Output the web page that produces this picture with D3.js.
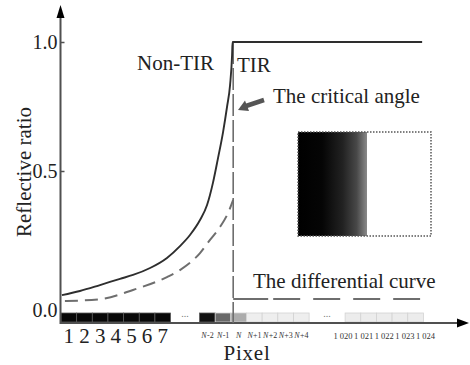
<!DOCTYPE html>
<html>
<head>
<meta charset="utf-8">
<script src="https://cdn.jsdelivr.net/npm/d3@7"></script>
<style>
  html, body { margin: 0; padding: 0; background: #fff; }
  svg { display: block; font-family: "Liberation Serif", "DejaVu Serif", serif; }
</style>
</head>
<body>
<svg id="chart" width="470" height="365"></svg>
<script>
// ---------------- data ----------------
// reflective ratio curve (x in pixel-slot units, y in ratio)
const reflX = [0.06, 1.21, 2.49, 3.77, 4.60, 5.69, 6.77, 7.60, 8.24, 8.88, 9.33, 9.71, 10.03, 10.35, 10.61, 10.80, 10.93, 10.96, 23.07];
const reflY = [0.019, 0.035, 0.058, 0.082, 0.097, 0.124, 0.163, 0.209, 0.252, 0.310, 0.368, 0.455, 0.550, 0.650, 0.750, 0.833, 0.95, 1.0, 1.0];
// differential curve
const diffX = [0.25, 2.49, 4.60, 6.77, 7.60, 8.88, 9.52, 10.16, 10.67, 11.0];
const diffY = [-0.004, 0.003, 0.039, 0.089, 0.116, 0.182, 0.233, 0.283, 0.337, 0.388];
const diffLowX = [11.0, 22.94];
const diffLowY = [0.004, 0.004];
const criticalX = 11.0;
// pixel strip
const pixelLabels = ["1","2","3","4","5","6","7","N-2","N-1","N","N+1","N+2","N+3","N+4","1 020","1 021","1 022","1 023","1 024"];
const pixelIndex = [0,1,2,3,4,5,6, 8.85,9.85,10.85,11.85,12.85,13.85,14.85, 18.15,19.15,20.15,21.15,22.15];
const pixelGray = [8,8,8,8,8,8,8, 18,105,172,238,238,238,238, 236,236,236,236,236];
// axis ticks
const yTicks = [0, 0.5, 1.0];
const yTickLabels = ["0.0", "0.5", "1.0"];

// ---------------- layout ----------------
const svg = d3.select("#chart");
const x = d3.scaleLinear().domain([0, 26]).range([61, 468]);
const y = d3.scaleLinear().domain([0, 1]).range([300, 42]);
const axisY = 323;
const axisColor = "#505050";

// pixel strip
const cellTop = 313, cellBottom = 322;
svg.append("g").selectAll("rect").data(pixelIndex).join("rect")
  .attr("x", d => x(d))
  .attr("y", cellTop)
  .attr("width", d => x(d + 1) - x(d))
  .attr("height", cellBottom - cellTop)
  .attr("fill", (d, i) => d3.rgb(pixelGray[i], pixelGray[i], pixelGray[i]))
  .attr("stroke", (d, i) => pixelGray[i] < 60 ? "#5a5a5a" : "#d2d2d2")
  .attr("stroke-width", 0.8);

// ellipses between groups
[[7, 8.85], [15.85, 18.15]].forEach(([a, b]) => {
  svg.append("text")
    .attr("x", (x(a) + x(b)) / 2)
    .attr("y", 317)
    .attr("text-anchor", "middle")
    .attr("font-size", 10).attr("fill", "#777")
    .text("...");
});

// x axis with arrow
svg.append("line").attr("x1", 60).attr("x2", 460).attr("y1", axisY).attr("y2", axisY)
  .attr("stroke", axisColor).attr("stroke-width", 2);
svg.append("path").attr("d", `M469,${axisY} L457,${axisY - 4.5} L457,${axisY + 4.5} Z`).attr("fill", "#000");

// y axis with arrow
svg.append("line").attr("x1", 60.5).attr("x2", 60.5).attr("y1", 16).attr("y2", axisY + 1)
  .attr("stroke", axisColor).attr("stroke-width", 2);
svg.append("path").attr("d", "M60.5,5 L56.5,18 L64.5,18 Z").attr("fill", "#000");

// y ticks
const yAxis = d3.axisRight(y).tickValues(yTicks).tickSize(4).tickFormat((d, i) => yTickLabels[i]);
const yg = svg.append("g").attr("transform", "translate(60.5,0)").call(yAxis);
yg.select(".domain").remove();
yg.selectAll(".tick line").attr("stroke", axisColor).attr("stroke-width", 1.5)
  .attr("opacity", d => d === 0 ? 0 : 1);
yg.selectAll(".tick text")
  .attr("x", -3).attr("text-anchor", "end")
  .attr("font-family", "Liberation Serif, serif")
  .attr("font-size", 20).attr("fill", "#222")
  .attr("dy", d => d === 0 ? "0.8em" : "0.34em");

// pixel labels
const lab = svg.append("g");
pixelLabels.forEach((t, i) => {
  const cx = (x(pixelIndex[i]) + x(pixelIndex[i] + 1)) / 2;
  if (i < 7) {
    lab.append("text").attr("x", cx).attr("y", 343).attr("text-anchor", "middle")
      .attr("font-size", 21).attr("fill", "#222").text(t);
  } else if (i < 14) {
    // italic N + upright suffix, as two adjacent texts centred on the cell
    const nT = lab.append("text").attr("y", 338).attr("font-size", 8).attr("font-style", "italic")
      .attr("fill", "#333").text("N");
    const sT = t.length > 1 ? lab.append("text").attr("y", 338).attr("font-size", 8)
      .attr("fill", "#333").text(t.slice(1)) : null;
    const wN = nT.node().getComputedTextLength();
    const wS = sT ? sT.node().getComputedTextLength() : 0;
    const x0 = cx - (wN + wS) / 2;
    nT.attr("x", x0);
    if (sT) sT.attr("x", x0 + wN + 0.3);
  } else {
    const gc = (x(pixelIndex[14]) + x(pixelIndex[18] + 1)) / 2;
    const lx = gc + (i - 16) * 20.6;
    lab.append("text").attr("x", lx).attr("y", 339).attr("text-anchor", "middle")
      .attr("font-size", 8.5).attr("fill", "#333").text(t);
  }
});

// axis titles
svg.append("text").attr("x", 247).attr("y", 359.5).attr("text-anchor", "middle")
  .attr("font-size", 21).attr("fill", "#222").attr("letter-spacing", 0.8).text("Pixel");
svg.append("text").attr("transform", "translate(31,172) rotate(-90)").attr("text-anchor", "middle")
  .attr("font-size", 21).attr("fill", "#222").text("Reflective ratio");

// inset illustration
const defs = svg.append("defs");
const grad = defs.append("linearGradient").attr("id", "ramp").attr("x1", "0").attr("x2", "1").attr("y1", "0").attr("y2", "0");
[[0, "#000"], [0.35, "#050505"], [0.65, "#222"], [0.85, "#484848"], [1, "#8a8a8a"]].forEach(([o, c]) =>
  grad.append("stop").attr("offset", o).attr("stop-color", c));
svg.append("rect").attr("x", 298).attr("y", 132).attr("width", 69).attr("height", 104).attr("fill", "url(#ramp)");
svg.append("rect").attr("x", 298).attr("y", 132).attr("width", 133).attr("height", 104)
  .attr("fill", "none").attr("stroke", "#555").attr("stroke-width", 1.5).attr("stroke-dasharray", "1.5,1.5");

// differential curve (dashed gray)
const line = d3.line().x(d => x(d[0])).y(d => y(d[1])).curve(d3.curveMonotoneX);
const straight = d3.line().x(d => x(d[0])).y(d => y(d[1]));
svg.append("path").datum(diffX.map((v, i) => [v, diffY[i]]))
  .attr("d", line).attr("fill", "none").attr("stroke", "#6e6e6e").attr("stroke-width", 2)
  .attr("stroke-dasharray", "13,7");
svg.append("path").datum(diffLowX.map((v, i) => [v, diffLowY[i]]))
  .attr("d", straight).attr("fill", "none").attr("stroke", "#6e6e6e").attr("stroke-width", 2)
  .attr("stroke-dasharray", "35,5,27,13,27,13,27,13,27,13,27");
// critical-angle marker line
svg.append("line").attr("x1", x(criticalX)).attr("x2", x(criticalX))
  .attr("y1", y(1.0)).attr("y2", axisY)
  .attr("stroke", "#6e6e6e").attr("stroke-width", 1.6).attr("stroke-dasharray", "22,4");

// reflective ratio curve (solid)
svg.append("path").datum(reflX.map((v, i) => [v, reflY[i]]))
  .attr("d", line).attr("fill", "none").attr("stroke", "#2e2e2e").attr("stroke-width", 1.9);

// annotations
svg.append("text").attr("x", 137).attr("y", 70).attr("font-size", 21).attr("fill", "#222").text("Non-TIR");
svg.append("text").attr("x", 237).attr("y", 72).attr("font-size", 21).attr("fill", "#222").text("TIR");
svg.append("text").attr("x", 273).attr("y", 103).attr("font-size", 21).attr("fill", "#222").text("The critical angle");
svg.append("text").attr("x", 253).attr("y", 288).attr("font-size", 21).attr("fill", "#222").text("The differential curve");

// arrow pointing to critical angle
svg.append("line").attr("x1", 264).attr("y1", 100).attr("x2", 246).attr("y2", 106)
  .attr("stroke", "#555").attr("stroke-width", 4.5);
svg.append("path").attr("d", "M238,110 L245,100.5 L249,111 Z").attr("fill", "#555");
</script>
</body>
</html>
